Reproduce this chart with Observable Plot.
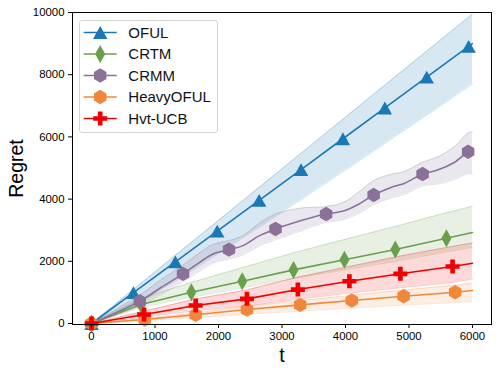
<!DOCTYPE html>
<html><head><meta charset="utf-8">
<script src="https://cdn.jsdelivr.net/npm/d3@7"></script>
<script src="https://cdn.jsdelivr.net/npm/@observablehq/plot@0.6"></script>
<style>
body{margin:0;background:#fff;}
#wrap{position:relative;width:499px;height:374px;font-family:"Liberation Sans",Arial,Helvetica,sans-serif;}
#legend{position:absolute;left:79px;top:20px;width:137px;height:111px;border:1px solid #d4d4d4;border-radius:3px;background:rgba(255,255,255,0.85);}
</style></head><body><div id="wrap"></div>
<script>
// ---- data ----
const seriesNames = ["OFUL", "CRTM", "CRMM", "HeavyOFUL", "Hvt-UCB"];
const seriesColors = ["#1a78b4", "#6a9f4c", "#8b7198", "#f0873a", "#f00000"];
const xTicks = [0, 1000, 2000, 3000, 4000, 5000, 6000];
const yTicks = [0, 2000, 4000, 6000, 8000, 10000];

const ofulT    = [0, 660, 1320, 1980, 2640, 3300, 3960, 4620, 5280, 5940, 6000];
const ofulMean = [0, 990, 1980, 2970, 3960, 4950, 5940, 6930, 7920, 8910, 9000];
const ofulLo   = [0, 559, 1370, 2223, 3098, 3986, 4884, 5789, 6700, 7617, 7700];
const ofulHi   = [0, 1095, 2190, 3280, 4375, 5470, 6565, 7660, 8755, 9850, 9950];
const ofulMarkT = [0, 660, 1320, 1980, 2640, 3300, 3960, 4620, 5280, 5940];

const crtmT    = [0, 780, 1572, 2374, 3181, 3983, 4785, 5590, 6000];
const crtmMean = [0, 610, 1005, 1358, 1724, 2048, 2379, 2740, 2926];
const crtmLo   = [0, 515, 845, 1140, 1450, 1720, 2000, 2300, 2450];
const crtmHi   = [0, 800, 1320, 1790, 2270, 2700, 3120, 3560, 3766];
const crtmMarkT = [0, 780, 1572, 2374, 3181, 3983, 4785, 5590];

const crmmT    = [0, 760, 1101, 1441, 1703, 1913, 2165, 2385, 2646, 2898, 3302, 3511, 3695, 3983, 4193, 4444, 4717, 4926, 5214, 5450, 5712, 5932, 6000];
const crmmMean = [0, 716, 1165, 1595, 1968, 2238, 2376, 2504, 2825, 3040, 3312, 3435, 3520, 3628, 3820, 4132, 4376, 4504, 4806, 4934, 5178, 5522, 5560];
const crmmLo   = [0, 556, 945, 1335, 1678, 1938, 2076, 2204, 2495, 2690, 2982, 3135, 3253, 3348, 3520, 3822, 4036, 4144, 4431, 4484, 4628, 4822, 4810];
const crmmHi   = [0, 916, 1415, 1875, 2268, 2538, 2666, 2824, 3225, 3520, 3712, 3735, 3760, 3908, 4200, 4592, 4796, 4884, 5181, 5354, 5678, 6122, 6160];
const crmmMarkT = [0, 760, 1441, 2165, 2898, 3695, 4444, 5214, 5932];

const heavyT    = [0, 838, 1640, 2448, 3286, 4099, 4916, 5728, 6000];
const heavyMean = [0, 128, 279, 449, 600, 739, 878, 1006, 1061];
const heavyLo   = [0, 85, 185, 300, 400, 495, 590, 675, 706];
const heavyHi   = [0, 160, 340, 550, 735, 905, 1075, 1230, 1294];
const heavyMarkT = [0, 838, 1640, 2448, 3286, 4099, 4916, 5728];

const hvtT    = [0, 828, 1640, 2448, 3250, 4062, 4865, 5687, 6000];
const hvtMean = [0, 289, 578, 793, 1091, 1360, 1598, 1833, 1939];
const hvtLo   = [0, 210, 415, 570, 785, 980, 1150, 1320, 1435];
const hvtHi   = [0, 395, 790, 1080, 1490, 1830, 2170, 2480, 2590];
const hvtMarkT = [0, 828, 1640, 2448, 3250, 4062, 4865, 5687];

// ---- marker shapes (matplotlib-like) ----
const triSym = {draw(c, s){const r=Math.sqrt(s/Math.PI); c.moveTo(0,-r*0.89); c.lineTo(r,r*0.89); c.lineTo(-r,r*0.89); c.closePath();}};
const diaSym = {draw(c, s){const r=Math.sqrt(s/Math.PI); c.moveTo(0,-r); c.lineTo(r*0.56,0); c.lineTo(0,r); c.lineTo(-r*0.56,0); c.closePath();}};
const hexSym = {draw(c, s){const r=Math.sqrt(s/Math.PI); for(let k=0;k<6;k++){const a=-Math.PI/2+k*Math.PI/3; const x=r*Math.cos(a), y=r*Math.sin(a); if(k===0) c.moveTo(x,y); else c.lineTo(x,y);} c.closePath();}};
const plusSym = {draw(c, s){const r=Math.sqrt(s/Math.PI); const w=r/3; const P=[[-w,-r],[w,-r],[w,-w],[r,-w],[r,w],[w,w],[w,r],[-w,r],[-w,w],[-r,w],[-r,-w],[-w,-w]]; c.moveTo(P[0][0],P[0][1]); for(let i=1;i<P.length;i++) c.lineTo(P[i][0],P[i][1]); c.closePath();}};

const series = [
  {t: ofulT, mean: ofulMean, lo: ofulLo, hi: ofulHi, markT: ofulMarkT, sym: triSym, r: 7.2, curve: "linear", op: 0.17},
  {t: crtmT, mean: crtmMean, lo: crtmLo, hi: crtmHi, markT: crtmMarkT, sym: diaSym, r: 9, curve: "linear", op: 0.16},
  {t: crmmT, mean: crmmMean, lo: crmmLo, hi: crmmHi, markT: crmmMarkT, sym: hexSym, r: 7.2, curve: "catmull-rom", op: 0.17},
  {t: heavyT, mean: heavyMean, lo: heavyLo, hi: heavyHi, markT: heavyMarkT, sym: hexSym, r: 7.2, curve: "linear", op: 0.15},
  {t: hvtT, mean: hvtMean, lo: hvtLo, hi: hvtHi, markT: hvtMarkT, sym: plusSym, r: 7, curve: "linear", op: 0.15}
].map((s, i) => ({...s, name: seriesNames[i], color: seriesColors[i],
  pts: s.t.map((t, j) => ({t, mean: s.mean[j], lo: s.lo[j], hi: s.hi[j]}))}));

const marks = [];
for (const s of series) {
  marks.push(Plot.areaY(s.pts, {x: "t", y1: "lo", y2: "hi", fill: s.color, fillOpacity: s.op, curve: s.curve}));
  marks.push(Plot.line(s.pts, {x: "t", y: "hi", stroke: s.color, strokeOpacity: 0.22, strokeWidth: 1, curve: s.curve}));
  marks.push(Plot.line(s.pts, {x: "t", y: "lo", stroke: s.color, strokeOpacity: 0.22, strokeWidth: 1, curve: s.curve}));
}
for (const s of series) {
  marks.push(Plot.line(s.pts, {x: "t", y: "mean", stroke: s.color, strokeWidth: 1.6, curve: s.curve}));
  marks.push(Plot.dot(s.pts.filter(p => s.markT.includes(p.t)), {x: "t", y: "mean", symbol: s.sym, r: s.r, fill: s.color, stroke: "none"}));
}

const chart = Plot.plot({
  width: 499, height: 374,
  marginLeft: 72, marginRight: 8, marginTop: 12, marginBottom: 50,
  style: {fontFamily: '"Liberation Sans", Arial, Helvetica, sans-serif', fontSize: "11.4px", color: "black", background: "white"},
  x: {domain: [-300, 6300]},
  y: {domain: [-32, 10000]},
  marks: [
    ...marks,
    Plot.axisX({ticks: xTicks, tickFormat: d => String(d), tickSize: 4, tickPadding: 3, label: null}),
    Plot.axisY({ticks: yTicks, tickFormat: d => String(d), tickSize: 4, tickPadding: 4, label: null}),
    Plot.frame({stroke: "black", strokeWidth: 1}),
    Plot.text(["Regret"], {text: d => d, frameAnchor: "left", dx: -56, rotate: -90, fontSize: 19.5, textAnchor: "middle", lineAnchor: "middle"}),
    Plot.text(["t"], {text: d => d, frameAnchor: "bottom", dy: 31, fontSize: 19.5, textAnchor: "middle", lineAnchor: "middle"})
  ]
});

const wrap = document.getElementById("wrap");
wrap.appendChild(chart);

// ---- legend ----
const leg = document.createElement("div");
leg.id = "legend";
let svg = '<svg width="137" height="111" xmlns="http://www.w3.org/2000/svg">';
series.forEach((s, i) => {
  const y = 11.5 + 21.5 * i;
  const p = d3.path();
  s.sym.draw(p, s.r * s.r * Math.PI);
  svg += `<line x1="3.7" x2="36.7" y1="${y}" y2="${y}" stroke="${s.color}" stroke-width="1.6"/>`;
  svg += `<path transform="translate(20.2,${y})" d="${p.toString()}" fill="${s.color}"/>`;
  svg += `<text x="48.3" y="${y}" dy="0.36em" font-size="15" fill="#111">${s.name}</text>`;
});
svg += '</svg>';
leg.innerHTML = svg;
wrap.appendChild(leg);
</script></body></html>
